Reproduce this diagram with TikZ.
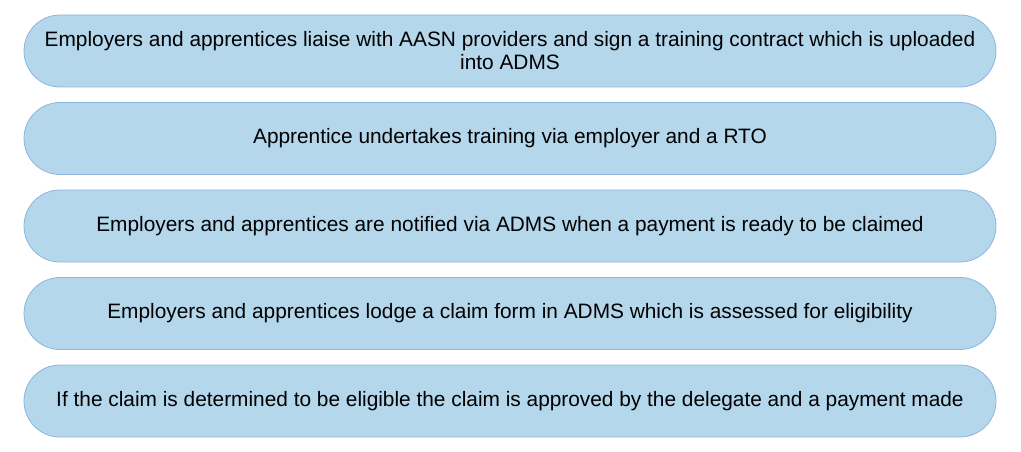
\documentclass[tikz,border=0pt]{standalone}
\usepackage{fontspec}
\setmainfont{Liberation Sans}
\definecolor{boxfill}{HTML}{B4D7EC}
\definecolor{boxline}{HTML}{8EB4E0}
\begin{document}
\begin{tikzpicture}[x=1pt,y=-1pt,
  stepbox/.style={draw=boxline, line width=0.8pt, fill=boxfill, rounded corners=36pt,
    minimum width=972pt, minimum height=72pt, align=center,
    inner sep=0pt, font=\fontsize{20.85}{23}\selectfont}]
\useasboundingbox (0,0) rectangle (1021,452);
\node[stepbox] (s1) at (510,51) {Employers and apprentices liaise with AASN providers and sign a training contract which is uploaded\\into ADMS};
\node[stepbox] (s2) at (510,138.5) {Apprentice undertakes training via employer and a RTO};
\node[stepbox] (s3) at (510,226) {Employers and apprentices are notified via ADMS when a payment is ready to be claimed};
\node[stepbox] (s4) at (510,313.5) {Employers and apprentices lodge a claim form in ADMS which is assessed for eligibility};
\node[stepbox] (s5) at (510,401) {If the claim is determined to be eligible the claim is approved by the delegate and a payment made};
\end{tikzpicture}
\end{document}
